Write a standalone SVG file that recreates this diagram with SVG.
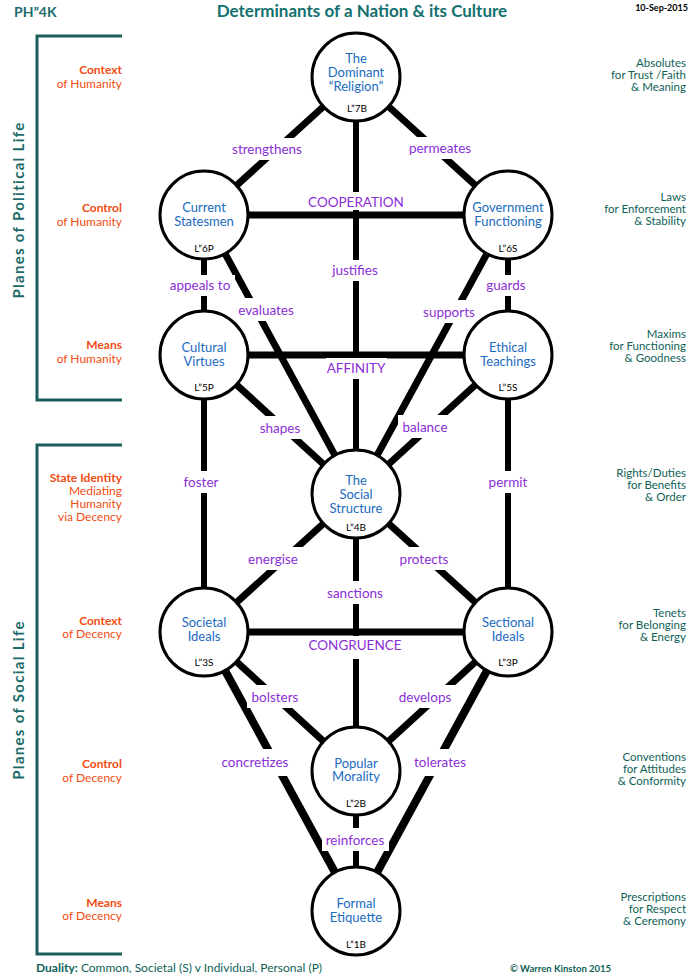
<svg xmlns="http://www.w3.org/2000/svg" width="699" height="978" viewBox="0 0 699 978">
<style>
text{font-family:Lato,"Open Sans","Liberation Sans",sans-serif}
.ln{stroke:#000;stroke-width:7;fill:none}
.lv{stroke:#000;stroke-width:6;fill:none}
.lt{stroke:#000;stroke-width:8;fill:none}
.nd{fill:#fff;stroke:#000;stroke-width:3}
.nt{fill:#1a6bbf;font-size:13px;text-anchor:middle}
.lv2{fill:#000;font-size:10px;text-anchor:middle}
.el{fill:#8b2fd6;font-size:13.5px;text-anchor:middle}
.bg{fill:#fff}
.lf{fill:#f24d12;font-size:12px;text-anchor:end}
.lfb{font-weight:bold}
.rt{fill:#0f5f58;font-size:11.5px;text-anchor:end}
.br{stroke:#1c5e5c;stroke-width:3;fill:none}
.pl{fill:#1c6b68;font-size:15px;font-weight:bold;text-anchor:middle;letter-spacing:1.3px}
</style>

<text x="14" y="17" style="fill:#1c6b70;font-size:14px;font-weight:bold">PH”4K</text>
<text x="362" y="17" style="fill:#12706f;font-size:17px;font-weight:bold;text-anchor:middle">Determinants of a Nation &amp; its Culture</text>
<text x="688" y="11" style="fill:#000;font-size:9px;font-weight:bold;text-anchor:end">10-Sep-2015</text>

<g id="brackets">
<path class="br" d="M122,36 H37 V400 H122"/>
<path class="br" d="M122,445 H37 V954 H122"/>
<text class="pl" transform="translate(24,210) rotate(-90)">Planes of  Political  Life</text>
<text class="pl" transform="translate(24,700) rotate(-90)">Planes of  Social  Life</text>
</g>

<g id="left-labels">
<text class="lf" x="122" y="74"><tspan class="lfb">Context</tspan><tspan x="122" dy="14">of Humanity</tspan></text>
<text class="lf" x="122" y="212"><tspan class="lfb">Control</tspan><tspan x="122" dy="14">of Humanity</tspan></text>
<text class="lf" x="122" y="349"><tspan class="lfb">Means</tspan><tspan x="122" dy="14">of Humanity</tspan></text>
<text class="lf" x="122" y="482"><tspan class="lfb">State Identity</tspan><tspan x="122" dy="13">Mediating</tspan><tspan x="122" dy="13">Humanity</tspan><tspan x="122" dy="13">via Decency</tspan></text>
<text class="lf" x="122" y="625"><tspan class="lfb">Context</tspan><tspan x="122" dy="13">of Decency</tspan></text>
<text class="lf" x="122" y="768"><tspan class="lfb">Control</tspan><tspan x="122" dy="14">of Decency</tspan></text>
<text class="lf" x="122" y="907"><tspan class="lfb">Means</tspan><tspan x="122" dy="13">of Decency</tspan></text>
</g>

<g id="right-labels">
<text class="rt" x="686" y="67">Absolutes<tspan x="686" dy="12">for Trust /Faith</tspan><tspan x="686" dy="12">&amp; Meaning</tspan></text>
<text class="rt" x="686" y="201">Laws<tspan x="686" dy="12">for Enforcement</tspan><tspan x="686" dy="12">&amp; Stability</tspan></text>
<text class="rt" x="686" y="338">Maxims<tspan x="686" dy="12">for Functioning</tspan><tspan x="686" dy="12">&amp; Goodness</tspan></text>
<text class="rt" x="686" y="477">Rights/Duties<tspan x="686" dy="12">for Benefits</tspan><tspan x="686" dy="12">&amp; Order</tspan></text>
<text class="rt" x="686" y="617">Tenets<tspan x="686" dy="12">for Belonging</tspan><tspan x="686" dy="12">&amp; Energy</tspan></text>
<text class="rt" x="686" y="761">Conventions<tspan x="686" dy="12">for Attitudes</tspan><tspan x="686" dy="12">&amp; Conformity</tspan></text>
<text class="rt" x="686" y="901">Prescriptions<tspan x="686" dy="12">for Respect</tspan><tspan x="686" dy="12">&amp; Ceremony</tspan></text>
</g>

<g id="connectors">
<line class="ln" x1="356" y1="77" x2="204" y2="215"/>
<line class="ln" x1="356" y1="77" x2="508" y2="215"/>
<line class="lv" x1="356" y1="77" x2="356" y2="494"/>
<line class="ln" x1="204" y1="215" x2="508" y2="215"/>
<line class="lv" x1="204" y1="215" x2="204" y2="355"/>
<line class="lv" x1="508" y1="215" x2="508" y2="355"/>
<line class="ln" x1="204" y1="215" x2="356" y2="494"/>
<line class="ln" x1="508" y1="215" x2="356" y2="494"/>
<line class="ln" x1="204" y1="355" x2="508" y2="355"/>
<line class="ln" x1="204" y1="355" x2="356" y2="494"/>
<line class="ln" x1="508" y1="355" x2="356" y2="494"/>
<line class="lv" x1="204" y1="355" x2="204" y2="632"/>
<line class="lv" x1="508" y1="355" x2="508" y2="632"/>
<line class="ln" x1="356" y1="494" x2="204" y2="632"/>
<line class="ln" x1="356" y1="494" x2="508" y2="632"/>
<line class="lv" x1="356" y1="494" x2="356" y2="771"/>
<line class="ln" x1="204" y1="632" x2="508" y2="632"/>
<line class="ln" x1="204" y1="632" x2="356" y2="771"/>
<line class="ln" x1="508" y1="632" x2="356" y2="771"/>
<line class="lt" x1="204" y1="632" x2="356" y2="911"/>
<line class="lt" x1="508" y1="632" x2="356" y2="911"/>
<line class="lv" x1="356" y1="771" x2="356" y2="911"/>
</g>

<g id="connector-labels">
<rect class="bg" x="228" y="138" width="80" height="22"/><text class="el" x="267" y="154">strengthens</text>
<rect class="bg" x="404" y="137" width="72" height="22"/><text class="el" x="440" y="153">permeates</text>
<rect class="bg" x="308" y="192" width="96" height="18"/><text class="el" x="356" y="207">COOPERATION</text>
<rect class="bg" x="166" y="275" width="69" height="21"/><text class="el" x="200" y="290">appeals to</text>
<rect class="bg" x="327" y="260" width="56" height="21"/><text class="el" x="355" y="275">justifies</text>
<rect class="bg" x="482" y="275" width="49" height="21"/><text class="el" x="506" y="290">guards</text>
<rect class="bg" x="233" y="298" width="66" height="23"/><text class="el" x="266" y="315">evaluates</text>
<rect class="bg" x="418" y="300" width="62" height="23"/><text class="el" x="449" y="317">supports</text>
<rect class="bg" x="326" y="358" width="61" height="21"/><text class="el" x="356" y="373">AFFINITY</text>
<rect class="bg" x="255" y="416" width="50" height="23"/><text class="el" x="280" y="433">shapes</text>
<rect class="bg" x="398" y="415" width="54" height="23"/><text class="el" x="425" y="432">balance</text>
<rect class="bg" x="180" y="471" width="42" height="22"/><text class="el" x="201" y="487">foster</text>
<rect class="bg" x="484" y="471" width="48" height="22"/><text class="el" x="508" y="487">permit</text>
<rect class="bg" x="243" y="547" width="60" height="23"/><text class="el" x="273" y="564">energise</text>
<rect class="bg" x="395" y="547" width="58" height="23"/><text class="el" x="424" y="564">protects</text>
<rect class="bg" x="323" y="581" width="64" height="23"/><text class="el" x="355" y="598">sanctions</text>
<rect class="bg" x="308" y="636" width="94" height="23"/><text class="el" x="355" y="650">CONGRUENCE</text>
<rect class="bg" x="247" y="685" width="56" height="23"/><text class="el" x="275" y="702">bolsters</text>
<rect class="bg" x="393" y="685" width="64" height="23"/><text class="el" x="425" y="702">develops</text>
<rect class="bg" x="217" y="749" width="76" height="27"/><text class="el" x="255" y="767">concretizes</text>
<rect class="bg" x="409" y="749" width="62" height="27"/><text class="el" x="440" y="767">tolerates</text>
<rect class="bg" x="322" y="828" width="67" height="23"/><text class="el" x="355" y="845">reinforces</text>
</g>

<g id="n7">
<circle class="nd" cx="356" cy="77" r="44"/>
<text class="nt" x="356" y="62.5">The<tspan x="356" dy="14.5">Dominant</tspan><tspan x="356" dy="14">“Religion”</tspan></text>
<text class="lv2" x="357" y="112">L”7B</text>
</g>
<g id="n6p">
<circle class="nd" cx="204" cy="215" r="44"/>
<text class="nt" x="204" y="211.5">Current<tspan x="204" dy="14">Statesmen</tspan></text>
<text class="lv2" x="204" y="252">L”6P</text>
</g>
<g id="n6s">
<circle class="nd" cx="508" cy="215" r="44"/>
<text class="nt" x="508" y="211.5">Government<tspan x="508" dy="14">Functioning</tspan></text>
<text class="lv2" x="508" y="252">L”6S</text>
</g>
<g id="n5p">
<circle class="nd" cx="204" cy="355" r="44"/>
<text class="nt" x="204" y="352">Cultural<tspan x="204" dy="13.5">Virtues</tspan></text>
<text class="lv2" x="204" y="391">L”5P</text>
</g>
<g id="n5s">
<circle class="nd" cx="508" cy="355" r="44"/>
<text class="nt" x="508" y="352">Ethical<tspan x="508" dy="13.5">Teachings</tspan></text>
<text class="lv2" x="508" y="391">L”5S</text>
</g>
<g id="n4">
<circle class="nd" cx="356" cy="494" r="44"/>
<text class="nt" x="356" y="484.5">The<tspan x="356" dy="14">Social</tspan><tspan x="356" dy="14.5">Structure</tspan></text>
<text class="lv2" x="356" y="531">L”4B</text>
</g>
<g id="n3s">
<circle class="nd" cx="204" cy="632" r="44"/>
<text class="nt" x="204" y="626.5">Societal<tspan x="204" dy="14">Ideals</tspan></text>
<text class="lv2" x="204" y="666">L”3S</text>
</g>
<g id="n3p">
<circle class="nd" cx="508" cy="632" r="44"/>
<text class="nt" x="508" y="626.5">Sectional<tspan x="508" dy="14">Ideals</tspan></text>
<text class="lv2" x="508" y="666">L”3P</text>
</g>
<g id="n2">
<circle class="nd" cx="356" cy="771" r="44"/>
<text class="nt" x="356" y="767.5">Popular<tspan x="356" dy="13.5">Morality</tspan></text>
<text class="lv2" x="356" y="807">L”2B</text>
</g>
<g id="n1">
<circle class="nd" cx="356" cy="911" r="44"/>
<text class="nt" x="356" y="907.5">Formal<tspan x="356" dy="14">Etiquette</tspan></text>
<text class="lv2" x="356" y="948">L”1B</text>
</g>

<text x="36" y="972" style="fill:#0f5f58;font-size:12px"><tspan font-weight="bold">Duality:</tspan>  Common, Societal (S) v Individual, Personal (P)</text>
<text x="510" y="972" style="fill:#0f5f58;font-size:9.5px;font-weight:bold">© Warren Kinston  2015</text>
</svg>
